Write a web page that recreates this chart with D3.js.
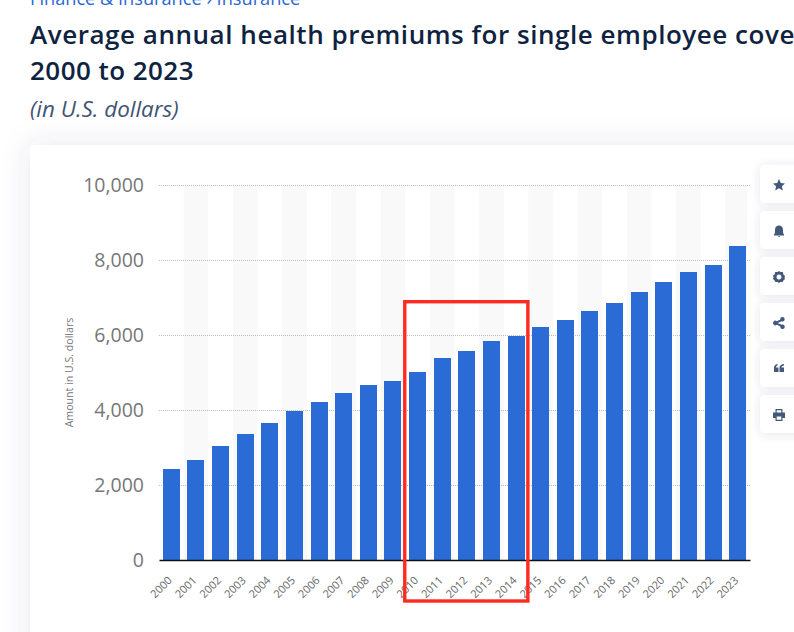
<!DOCTYPE html>
<html><head><meta charset="utf-8">
<script src="https://cdn.jsdelivr.net/npm/d3@7"></script>
<style>
html,body{margin:0;padding:0;background:#fff;overflow:hidden}
svg{display:block}
text{font-family:"Open Sans",sans-serif}
</style></head><body><svg id="c" width="794" height="632"></svg>
<script>
const years=["2000","2001","2002","2003","2004","2005","2006","2007","2008","2009","2010","2011","2012","2013","2014","2015","2016","2017","2018","2019","2020","2021","2022","2023"];
const premiums=[2440,2680,3053,3373,3667,3987,4227,4467,4680,4787,5027,5400,5587,5853,5987,6227,6413,6653,6867,7160,7427,7693,7880,8387];
const yTicks=[0,2000,4000,6000,8000,10000];
const breadcrumb="Finance & Insurance › Insurance";
const titleLines=["Average annual health premiums for single employee cove","2000 to 2023"];
const subtitle="(in U.S. dollars)";
const yLabel="Amount in U.S. dollars";
const highlighted=["2010","2014"];

const svg=d3.select("#c");
const defs=svg.append("defs");
const f=defs.append("filter").attr("id","sh").attr("x","-20%").attr("y","-20%").attr("width","140%").attr("height","140%");
f.append("feDropShadow").attr("dx",0).attr("dy",0).attr("stdDeviation",14).attr("flood-color","#3c4a6e").attr("flood-opacity",0.13);
const f2=defs.append("filter").attr("id","sh2").attr("x","-30%").attr("y","-30%").attr("width","160%").attr("height","160%");
f2.append("feDropShadow").attr("dx",0).attr("dy",1).attr("stdDeviation",5).attr("flood-color","#3c4a6e").attr("flood-opacity",0.14);

svg.append("text").attr("x",30).attr("y",5).attr("font-size",18.2).attr("fill","#2a66d6").text(breadcrumb);
svg.append("text").attr("x",30).attr("y",44).attr("font-size",26).attr("font-weight",600).attr("letter-spacing",0.54).attr("fill","#0f2341").text(titleLines[0]);
svg.append("text").attr("x",30).attr("y",80).attr("font-size",26).attr("font-weight",600).attr("letter-spacing",0.45).attr("fill","#0f2341").text(titleLines[1]);
svg.append("text").attr("x",30).attr("y",116.5).attr("font-size",22.4).attr("font-style","italic").attr("fill","#3f5475").text(subtitle);

svg.append("rect").attr("x",30).attr("y",145).attr("width",800).attr("height",560).attr("rx",6).attr("fill","#fff").attr("filter","url(#sh)");

const x=d3.scaleBand().domain(years).range([159,750]).paddingInner(0.31).paddingOuter(0.155);
const y=d3.scaleLinear().domain([0,10000]).range([560.5,185.5]);

const step=x.step();
svg.append("g").selectAll("rect").data(years.filter((d,i)=>i%2==1)).join("rect")
 .attr("x",d=>x(d)-(step-x.bandwidth())/2).attr("width",d=>Math.min(step,747-(x(d)-(step-x.bandwidth())/2)))
 .attr("y",y(10000)).attr("height",y(0)-y(10000)).attr("fill","#f9f9f9");

svg.append("g").selectAll("line").data(yTicks.filter(d=>d>0)).join("line")
 .attr("x1",159).attr("x2",750).attr("y1",d=>y(d)).attr("y2",d=>y(d))
 .attr("stroke","#bdbdbd").attr("stroke-width",1).attr("stroke-dasharray","1 1");

svg.append("g").attr("shape-rendering","crispEdges").selectAll("rect").data(years).join("rect")
 .attr("x",(d)=>x(d)).attr("width",x.bandwidth())
 .attr("y",(d,i)=>y(premiums[i])).attr("height",(d,i)=>y(0)-y(premiums[i]))
 .attr("fill","#2b6bd6");

const ya=svg.append("g").attr("transform","translate(144,0)").call(d3.axisLeft(y).tickValues(yTicks).tickSize(0).tickPadding(0).tickFormat(d3.format(",")));
ya.select(".domain").remove();
ya.selectAll("text").attr("font-size",19.5).attr("fill","#777").style("font-family",'"Open Sans",sans-serif');

const xa=svg.append("g").attr("transform","translate(0,560)").call(d3.axisBottom(x).tickSize(0).tickPadding(0));
xa.select(".domain").attr("stroke","#111").attr("stroke-width",1.3);
xa.selectAll("text").attr("font-size",11).attr("fill","#666").attr("text-anchor","end").attr("dy",0)
 .style("font-family",'"Open Sans",sans-serif')
 .attr("transform",d=>`translate(1.5,21) rotate(-45)`);

svg.append("text").attr("transform","translate(72.5,372.5) rotate(-90)").attr("text-anchor","middle").attr("font-size",10.6).attr("fill","#777").text(yLabel);

const bx0=x(highlighted[0])-4.3, bx1=x(highlighted[1])+x.bandwidth()+3.3;
svg.append("rect").attr("x",bx0).attr("y",301.7).attr("width",bx1-bx0).attr("height",299.3).attr("fill","none").attr("stroke","#ff2a20").attr("stroke-width",3.4);

const sideTop=[165,211,257,303,349,395];
const icons=[
 "M0,-6 L1.8,-2 L6,-1.6 L2.9,1.2 L3.8,5.5 L0,3.3 L-3.8,5.5 L-2.9,1.2 L-6,-1.6 L-1.8,-2 Z",
 "M-5,3.5 C-4,2.5 -4,1 -4,-1 C-4,-4 -2.5,-5.5 0,-5.5 C2.5,-5.5 4,-4 4,-1 C4,1 4,2.5 5,3.5 L5,4.5 L-5,4.5 Z M-1.5,5 L1.5,5 L0,6 Z",
 "M0,-6 L1.5,-5 L3.8,-5 L4.4,-2.6 L6,-1 L5.5,1 L6,2 L4.4,3.6 L3.6,5 L1.5,5 L0,6 L-1.5,5 L-3.6,5 L-4.4,3.6 L-6,2 L-5.5,0 L-6,-1.5 L-4.4,-2.6 L-3.8,-5 L-1.5,-5 Z M0,-2.5 A2.5,2.5 0 1 0 0.01,-2.5 Z",
 "M3.5,-6 A2.2,2.2 0 1 1 3.5,-1.6 L2.8,-1.7 L-1.4,0 L2.8,1.7 L3.5,1.6 A2.2,2.2 0 1 1 1.4,3.4 L-2.2,1.7 A2.3,2.3 0 1 1 -2.2,-1.7 L1.4,-3.4 A2.2,2.2 0 0 1 3.5,-6 Z",
 "M-5,-1 C-5,-3 -4,-4.5 -1.5,-5 L-1.5,-3.5 C-2.5,-3.2 -3,-2.5 -3,-1.5 L-0.5,-1.5 L-0.5,3 L-5,3 Z M0.5,-1 C0.5,-3 1.5,-4.5 5,-5 L5,-3.5 C3.5,-3.2 2.5,-2.5 2.5,-1.5 L5,-1.5 L5,3 L0.5,3 Z",
 "M-3.5,-6 L3.5,-6 L3.5,-2.5 L6,-2.5 L6,3 L3.5,3 L3.5,6 L-3.5,6 L-3.5,3 L-6,3 L-6,-2.5 L-3.5,-2.5 Z M-2.3,-4.8 L-2.3,-2.5 L2.3,-2.5 L2.3,-4.8 Z M-2.3,1.5 L-2.3,4.8 L2.3,4.8 L2.3,1.5 Z"
];
const sb=svg.append("g").selectAll("g").data(sideTop).join("g").attr("transform",d=>`translate(760,${d})`);
sb.append("rect").attr("width",50).attr("height",38).attr("rx",5).attr("fill","#fff").attr("filter","url(#sh2)");
sb.append("path").attr("transform","translate(19,20)").attr("d",(d,i)=>icons[i]).attr("fill","#44587a").attr("fill-rule","evenodd");
</script></body></html>
